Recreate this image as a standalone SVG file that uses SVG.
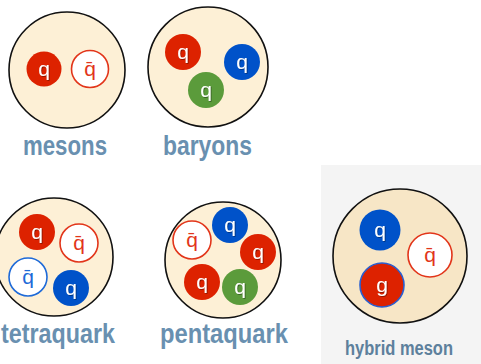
<svg xmlns="http://www.w3.org/2000/svg" width="481" height="364" viewBox="0 0 481 364">
  <defs>
    <filter id="sh" x="-20%" y="-20%" width="140%" height="140%">
      <feDropShadow dx="0.8" dy="0.8" stdDeviation="0.5" flood-color="#000" flood-opacity="0.45"/>
    </filter>
  </defs>
  <style>
    .hadron { fill: #fdf0d6; stroke: #111; stroke-width: 1.6; }
    .hadron2 { fill: #f7e6c6; stroke: #111; stroke-width: 1.6; }
    .red { fill: #dd2200; }
    .blue { fill: #0052c9; }
    .green { fill: #5b9b3b; }
    .anti-red { fill: #fff; stroke: #e2351a; stroke-width: 1.6; }
    .anti-blue { fill: #fff; stroke: #1e6ad8; stroke-width: 1.6; }
    .ql { font-family: "Liberation Sans", Arial, sans-serif; font-size: 21px; fill: #fff; text-anchor: middle; }
    .qs { filter: url(#sh); }
    .aql-r { font-family: "Liberation Sans", Arial, sans-serif; font-size: 21px; fill: #e2351a; text-anchor: middle; }
    .aql-b { font-family: "Liberation Sans", Arial, sans-serif; font-size: 21px; fill: #1e6ad8; text-anchor: middle; }
    .label { font-family: "Liberation Sans", Arial, sans-serif; font-weight: bold; font-size: 27px; fill: #6990b0; text-anchor: middle; }
    .label2 { font-family: "Liberation Sans", Arial, sans-serif; font-weight: bold; font-size: 20px; fill: #5d809c; text-anchor: middle; }
  </style>

  <!-- hybrid meson panel background -->
  <rect x="321" y="165" width="160" height="199" fill="#f4f4f4"/>

  <g id="mesons">
    <circle class="hadron" cx="67" cy="70" r="58"/>
    <circle class="red" cx="44" cy="69" r="17.5"/>
    <text class="ql qs" x="44" y="76">q</text>
    <circle class="anti-red" cx="90" cy="69" r="18.5"/>
    <text class="aql-r" x="90" y="76">q̄</text>
    <text class="label" x="65" y="155" textLength="84" lengthAdjust="spacingAndGlyphs">mesons</text>
  </g>

  <g id="baryons">
    <circle class="hadron" cx="208" cy="67" r="60"/>
    <circle class="red" cx="183" cy="52" r="18"/>
    <text class="ql qs" x="183" y="59">q</text>
    <circle class="blue" cx="242" cy="62" r="18"/>
    <text class="ql qs" x="242" y="69">q</text>
    <circle class="green" cx="206" cy="90" r="18"/>
    <text class="ql qs" x="206" y="97">q</text>
    <text class="label" x="207.5" y="155" textLength="89" lengthAdjust="spacingAndGlyphs">baryons</text>
  </g>

  <g id="tetraquark">
    <circle class="hadron" cx="54" cy="257" r="59"/>
    <circle class="red" cx="37" cy="232" r="18"/>
    <text class="ql qs" x="37" y="239">q</text>
    <circle class="anti-red" cx="79" cy="243" r="19"/>
    <text class="aql-r" x="79" y="250">q̄</text>
    <circle class="anti-blue" cx="28" cy="277" r="19"/>
    <text class="aql-b" x="28" y="284">q̄</text>
    <circle class="blue" cx="71" cy="288" r="18"/>
    <text class="ql qs" x="71" y="295">q</text>
    <text class="label" x="58" y="343" textLength="114" lengthAdjust="spacingAndGlyphs">tetraquark</text>
  </g>

  <g id="pentaquark">
    <circle class="hadron" cx="223" cy="260" r="58"/>
    <circle class="anti-red" cx="192" cy="240" r="19"/>
    <text class="aql-r" x="192" y="247">q̄</text>
    <circle class="blue" cx="230" cy="225" r="18"/>
    <text class="ql qs" x="230" y="232">q</text>
    <circle class="red" cx="258" cy="252" r="18"/>
    <text class="ql qs" x="258" y="259">q</text>
    <circle class="red" cx="202" cy="282" r="18"/>
    <text class="ql qs" x="202" y="289">q</text>
    <circle class="green" cx="240" cy="287" r="18"/>
    <text class="ql qs" x="240" y="294">q</text>
    <text class="label" x="224" y="343" textLength="128" lengthAdjust="spacingAndGlyphs">pentaquark</text>
  </g>

  <g id="hybrid-meson">
    <circle class="hadron2" cx="400" cy="256" r="67"/>
    <circle class="blue" cx="380" cy="230" r="20.5"/>
    <text class="ql qs" x="380" y="237">q</text>
    <circle class="anti-red" cx="430" cy="255" r="22"/>
    <text class="aql-r" x="430" y="262">q̄</text>
    <circle class="red" cx="382" cy="285" r="22" stroke="#2a5fd0" stroke-width="1.6"/>
    <text class="ql qs" x="382" y="292">g</text>
    <text class="label2" x="399" y="355" textLength="108" lengthAdjust="spacingAndGlyphs">hybrid meson</text>
  </g>
</svg>
